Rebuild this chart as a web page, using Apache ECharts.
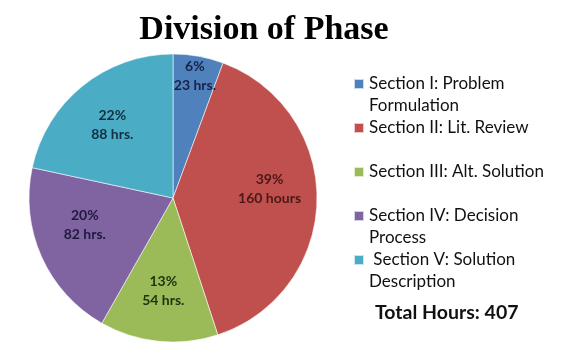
<!DOCTYPE html>
<html><head><meta charset="utf-8">
<script src="https://cdn.jsdelivr.net/npm/echarts@6/dist/echarts.min.js"></script>
<style>html,body{margin:0;padding:0;background:#fff}#c{width:574px;height:357px}</style>
</head><body><div id="c"></div>
<script>
const categories = ['Section I: Problem\nFormulation', 'Section II: Lit. Review', 'Section III: Alt. Solution', 'Section IV: Decision\nProcess', ' Section V: Solution\nDescription'];
const hours = [23, 160, 54, 82, 88];
const hourUnits = ['hrs.', 'hours', 'hrs.', 'hrs.', 'hrs.'];
const colors = ['#4F81BD', '#C0504D', '#9BBB59', '#8064A2', '#4BACC6'];
const labelColors = ['#1a2242', '#4a1818', '#1c3210', '#1e1a3c', '#123040'];
// small vertical nudges of the in-slice labels (style only)
const labelDy = [0, -11, -3, -12, 2];

const total = hours.reduce((a, b) => a + b, 0);
const center = [173, 198];
const R = 144;

const pieData = categories.map((c, i) => ({ name: c, value: hours[i], itemStyle: { color: colors[i] } }));
function labelData(showFn) {
  return categories.map((c, i) => ({
    name: c, value: hours[i],
    itemStyle: { color: 'rgba(0,0,0,0)' },
    label: {
      show: showFn(i), color: labelColors[i],
      formatter: Math.round(hours[i] / total * 100) + '%\n' + hours[i] + ' ' + hourUnits[i]
    }
  }));
}
const labelCommon = {
  type: 'pie', center: center, startAngle: 90, silent: true, animation: false,
  labelLine: { show: false },
  label: { position: 'inside', fontFamily: 'Lato', fontWeight: 'bold', fontSize: 14, lineHeight: 19, align: 'center' },
  labelLayout: p => ({ dy: labelDy[p.dataIndex] })
};

const chart = echarts.init(document.getElementById('c'), null, { renderer: 'canvas' });
chart.setOption({
  backgroundColor: '#fff',
  animation: false,
  title: [
    { text: 'Division of Phase', left: 259, top: 8, textAlign: 'center',
      textStyle: { fontFamily: 'Liberation Serif', fontWeight: 'bold', fontSize: 34, color: '#000' } },
    { text: 'Total Hours: ' + total, left: 370, top: 296,
      textStyle: { fontFamily: 'Lato', fontWeight: 'bold', fontSize: 19.5, lineHeight: 24, color: '#111' } }
  ],
  legend: {
    orient: 'vertical', left: 348, top: 46, itemGap: -22, itemWidth: 10, itemHeight: 10,
    icon: 'rect', selectedMode: false, data: categories,
    formatter: n => '\n' + n + (n.indexOf('\n') >= 0 ? '' : '\n '),
    textStyle: { fontFamily: 'Lato', fontSize: 17, lineHeight: 22, color: '#111' }
  },
  series: [
    { type: 'pie', center: center, radius: R, startAngle: 90, data: pieData,
      label: { show: false }, labelLine: { show: false },
      itemStyle: { borderColor: 'rgba(255,255,255,0.7)', borderWidth: 0.8 } },
    Object.assign({}, labelCommon, { radius: [R * 0.3, R], data: labelData(i => i !== 0) }),
    Object.assign({}, labelCommon, { radius: [R * 0.68, R], data: labelData(i => i === 0) })
  ]
});
</script></body></html>
